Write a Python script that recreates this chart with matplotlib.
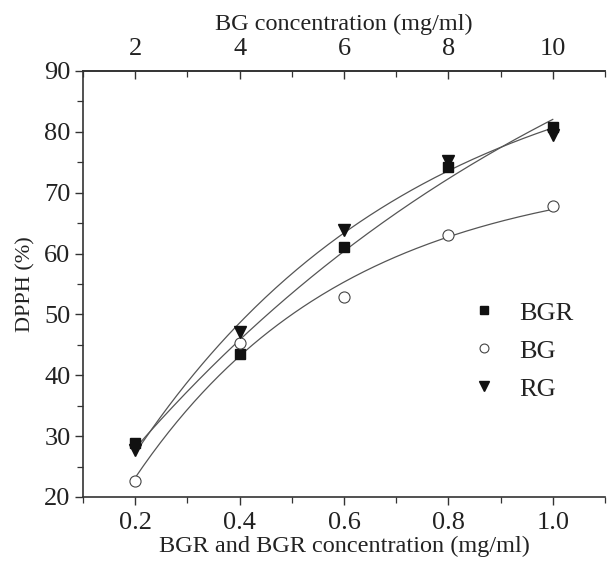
import numpy as np
import matplotlib
matplotlib.use("Agg")
import matplotlib.pyplot as plt
from matplotlib.ticker import MultipleLocator

plt.rcParams['font.family'] = ['Liberation Serif', 'DejaVu Serif']

conc = [0.2, 0.4, 0.6, 0.8, 1.0]
bgr = [28.9, 43.5, 61.1, 74.2, 80.8]
bg = [22.6, 45.3, 52.9, 63.0, 67.8]
rg = [27.7, 47.1, 63.9, 75.2, 79.5]
top_ticks = [2, 4, 6, 8, 10]


def exp_fit(x, y):
    """Least-squares fit of y = A + B*exp(-x/t); returns a callable."""
    x = np.asarray(x, float)
    y = np.asarray(y, float)
    best = None
    for t in np.linspace(0.05, 5.0, 2000):
        M = np.column_stack([np.ones_like(x), np.exp(-x / t)])
        coef, *_ = np.linalg.lstsq(M, y, rcond=None)
        err = np.sum((M @ coef - y) ** 2)
        if best is None or err < best[0]:
            best = (err, coef, t)
    _, (a, b), t = best
    return lambda v: a + b * np.exp(-v / t)


ink = '#222222'
fig = plt.figure(figsize=(6.11, 5.61), dpi=100)
ax = fig.add_axes([0.1358, 0.1141, 0.8543, 0.7594])

xs = np.linspace(min(conc), max(conc), 200)
for vals in (bgr, bg, rg):
    f = exp_fit(conc, vals)
    ax.plot(xs, f(xs), color='#555555', lw=0.9, zorder=2)

ax.plot(conc, bgr, ls='none', marker='s', ms=7, color='#111111', label='BGR', zorder=3)
ax.plot(conc, bg, ls='none', marker='o', ms=8, mfc='white', mec='#444444', mew=0.8,
        label='BG', zorder=3)
ax.plot(conc, rg, ls='none', marker='v', ms=9, color='#111111', label='RG', zorder=3)

ax.set_xlim(0.1, 1.1)
ax.set_ylim(20, 90)
ax.set_xticks(conc)
ax.set_xticklabels(['0.2', '0.4', '0.6', '0.8', '1.0'])
ax.xaxis.set_minor_locator(MultipleLocator(0.1))
ax.yaxis.set_major_locator(MultipleLocator(10))
ax.yaxis.set_minor_locator(MultipleLocator(5))

for side in ('left', 'bottom', 'top'):
    ax.spines[side].set_color('#333333')
    ax.spines[side].set_linewidth(1.2)
ax.spines['right'].set_visible(False)

ax.tick_params(axis='both', which='both', direction='out', colors='#333333',
               labelcolor=ink, labelsize=19)
ax.tick_params(which='major', length=6, width=1.0)
ax.tick_params(which='minor', length=4, width=0.9)
ax.tick_params(axis='x', pad=5)
ax.tick_params(axis='y', pad=3)

ax.set_xlabel('BGR and BGR concentration (mg/ml)', fontsize=17.5, color=ink, labelpad=1)
ax.set_ylabel('DPPH (%)', fontsize=16, color=ink, labelpad=6)

top = ax.twiny()
top.set_xlim(1, 11)
top.set_xticks(top_ticks)
top.xaxis.set_minor_locator(MultipleLocator(1))
for side in ('left', 'right', 'bottom'):
    top.spines[side].set_visible(False)
top.spines['top'].set_color('#333333')
top.spines['top'].set_linewidth(1.2)
top.tick_params(axis='x', which='both', direction='in', colors='#333333',
                labelcolor=ink, labelsize=19, pad=8)
top.tick_params(which='major', length=6, width=1.0)
top.tick_params(which='minor', length=4, width=0.9)
top.set_xlabel('BG concentration (mg/ml)', fontsize=17.5, color=ink, labelpad=6)

leg = ax.legend(loc='center left', bbox_to_anchor=(0.697, 0.343), frameon=False,
                fontsize=19, handletextpad=0.85, labelspacing=0.55, handlelength=1.0,
                markerscale=0.8)
for t in leg.get_texts():
    t.set_color(ink)

fig.savefig('out.png', dpi=100)
